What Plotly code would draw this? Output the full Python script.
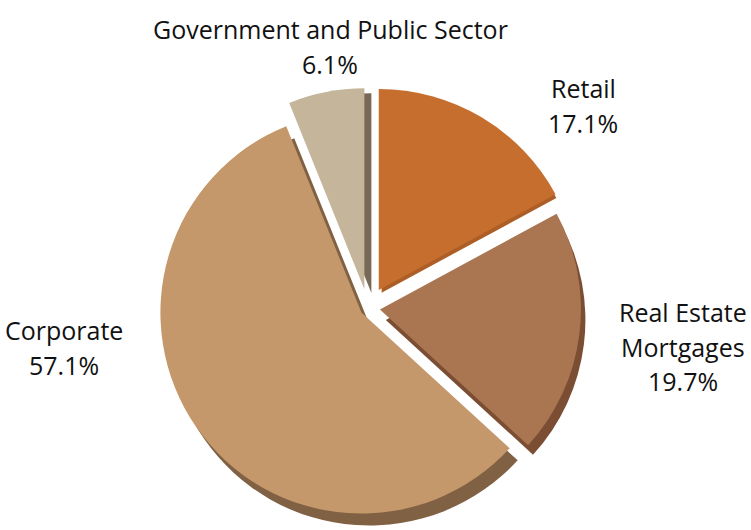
import plotly.graph_objects as go

# Loan portfolio breakdown by sector (percent of total)
sectors = ["Retail", "Real Estate<br>Mortgages", "Corporate", "Government and Public Sector"]
shares = [17.1, 19.7, 57.1, 6.1]
face_colors = ["#C66E2E", "#AA7652", "#C4986B", "#C4B59B"]
side_colors = ["#AD5E27", "#7B4E34", "#806143", "#786957"]

# explode distance of each slice (px) and offset of its darker side (px)
explode_px = [21, 12, 8, 19]
side_dx = [3, 6, 8, 7]
side_dy = [5, 12, 12, 5]

W, H = 751, 530
R = 201                     # pie radius in px
CX, CY = 368, 308           # pie centre in px

pulls = [p / R for p in explode_px]


def domain_for(cx, cy, half):
    x0 = max(0.0, (cx - half) / W)
    x1 = min(1.0, (cx + half) / W)
    y0 = max(0.0, 1 - (cy + half) / H)
    y1 = min(1.0, 1 - (cy - half) / H)
    return dict(x=[x0, x1], y=[y0, y1])


fig = go.Figure()

# darker "side" of every slice, drawn first so the faces sit on top of it
for i in range(len(sectors)):
    cols = ["rgba(0,0,0,0)"] * len(sectors)
    cols[i] = side_colors[i]
    pl = [0.0] * len(sectors)
    pl[i] = pulls[i]
    half = R * (1 + pulls[i])
    fig.add_trace(go.Pie(
        labels=sectors, values=shares, sort=False, direction="clockwise",
        rotation=0, pull=pl, textinfo="none", hoverinfo="skip",
        marker=dict(colors=cols, line=dict(width=0)),
        domain=domain_for(CX + side_dx[i], CY + side_dy[i], half),
        showlegend=False,
    ))

# slice faces
half = R * (1 + max(pulls))
fig.add_trace(go.Pie(
    labels=sectors, values=shares, sort=False, direction="clockwise",
    rotation=0, pull=pulls, textinfo="none",
    marker=dict(colors=face_colors, line=dict(width=0)),
    domain=domain_for(CX, CY, half),
    showlegend=False,
))

# category labels with their shares
label_pos = [(583, 88), (683, 312), (64, 330), (330, 29)]
LINE = 34.5
annotations = []
for name, val, (lx, ly) in zip(sectors, shares, label_pos):
    lines = name.split("<br>") + [f"{val:.1f}%"]
    for k, line in enumerate(lines):
        annotations.append(dict(
            x=lx / W, y=1 - (ly + k * LINE) / H, xref="paper", yref="paper",
            text=line, showarrow=False, xanchor="center", yanchor="middle",
            font=dict(family="Open Sans", size=25, color="#111111"),
        ))

fig.update_layout(
    width=W, height=H,
    margin=dict(l=0, r=0, t=0, b=0),
    paper_bgcolor="white", plot_bgcolor="white",
    annotations=annotations,
)

fig.write_html("out.html")
